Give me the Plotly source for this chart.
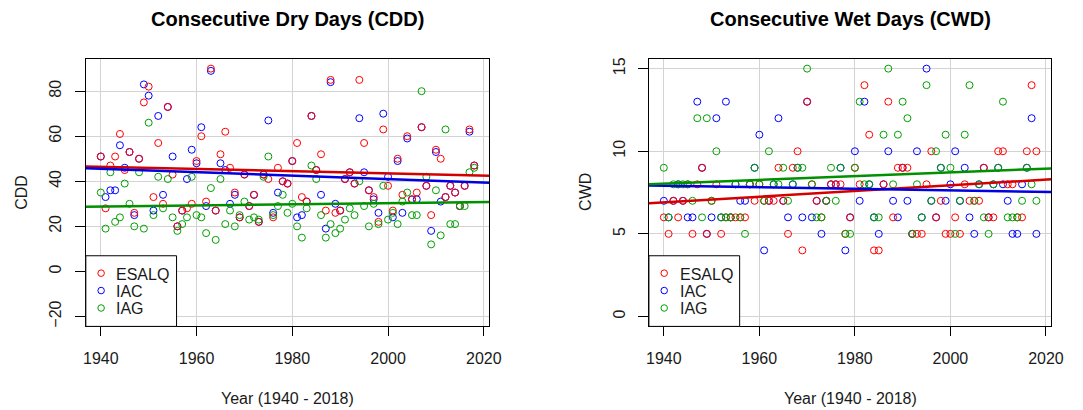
import plotly.graph_objects as go

years = list(range(1940, 2019))

# ---- Consecutive Dry Days (CDD) ----
cdd_esalq = [51, 28, 47, 51, 61, 45, 53, 26, 50, 75, 82, 33, 57, 30, 73, 43, 20, 27, 28, 30,
             49, 60, 31, 90, 27, 52, 62, 46, 35, 24, 43, 29, 34, 22, 43, 41, 24, 46, 40, 39,
             49, 57, 33, 31, 69, 45, 52, 27, 85, 26, 27, 41, 44, 39, 85, 57, 36, 33, 22, 63,
             38, 27, 50, 34, 60, 32, 35, 64, 38, 25, 54, 50, 33, 38, 35, 29, 38, 63, 47]
cdd_iac = [51, 33, 36, 36, 56, 46, 53, 25, 50, 83, 78, 27, 69, 34, 73, 51, 20, 27, 41, 54,
           48, 64, 29, 89, 27, 48, 45, 30, 34, 24, 43, 29, 34, 22, 43, 67, 26, 35, 40, 39,
           49, 24, 25, 31, 69, 45, 34, 19, 84, 30, 27, 41, 44, 39, 68, 44, 36, 32, 26, 70,
           42, 24, 49, 26, 59, 32, 32, 64, 38, 18, 53, 31, 33, 38, 35, 29, 38, 62, 47]
cdd_iag = [35, 19, 44, 22, 24, 39, 30, 20, 44, 19, 66, 25, 42, 28, 41, 24, 18, 21, 24, 42,
           25, 24, 17, 37, 14, 41, 21, 27, 20, 25, 31, 23, 24, 23, 42, 51, 25, 29, 34, 26,
           30, 20, 15, 28, 47, 41, 25, 15, 21, 17, 19, 23, 28, 25, 40, 29, 20, 30, 21, 38,
           23, 26, 21, 31, 35, 25, 25, 80, 42, 12, 36, 16, 63, 21, 21, 29, 29, 44, 46]

# ---- Consecutive Wet Days (CWD) ----
cwd_esalq = [6, 5, 7, 6, 7, 8, 5, 8, 9, 5, 7, 8, 5, 6, 6, 6, 6, 6, 8, 7,
             8, 7, 7, 7, 9, 7, 5, 9, 10, 4, 13, 8, 7, 6, 7, 8, 8, 8, 5, 6,
             9, 8, 14, 11, 4, 4, 8, 13, 6, 9, 9, 9, 5, 5, 5, 8, 10, 6, 7, 5,
             5, 6, 5, 8, 7, 7, 7, 9, 6, 6, 10, 10, 8, 8, 6, 6, 10, 14, 10]
cwd_iac = [7, 6, 7, 8, 7, 6, 6, 13, 9, 5, 6, 12, 6, 13, 6, 8, 7, 7, 8, 9,
           11, 4, 7, 8, 12, 7, 6, 8, 9, 6, 13, 6, 7, 5, 7, 8, 8, 9, 4, 6,
           10, 7, 13, 8, 6, 5, 8, 10, 7, 6, 9, 7, 5, 10, 6, 15, 7, 6, 9, 7,
           8, 10, 7, 9, 6, 5, 8, 9, 6, 8, 9, 8, 7, 5, 5, 8, 9, 12, 5]
cwd_iag = [9, 6, 8, 8, 8, 8, 7, 12, 6, 12, 7, 10, 6, 6, 6, 8, 6, 5, 8, 9,
           8, 7, 10, 8, 8, 9, 7, 8, 9, 9, 15, 8, 6, 6, 7, 9, 7, 9, 5, 5,
           9, 13, 8, 8, 6, 6, 11, 15, 8, 11, 13, 12, 5, 8, 6, 14, 7, 10, 9, 11,
           9, 5, 7, 11, 14, 7, 8, 6, 5, 8, 9, 13, 6, 6, 6, 7, 9, 8, 7]

# trend lines (values at the left and right edges of the plotting region)
trend_x = [1936.88, 2021.12]
cdd_trend = {"ESALQ": [46.6, 42.5], "IAC": [45.8, 39.4], "IAG": [28.7, 30.8]}
cwd_trend = {"ESALQ": [6.85, 8.3], "IAC": [7.93, 7.53], "IAG": [8.01, 8.96]}

names = ["ESALQ", "IAC", "IAG"]
draw_order = ["IAC", "ESALQ", "IAG"]
mcol = {"ESALQ": "#ff0000", "IAC": "#0000ff", "IAG": "#00a000"}
lcol = {"ESALQ": "#d40000", "IAC": "#0000e0", "IAG": "#009000"}

W, H = 1083, 410
FONT = "Arial, 'Liberation Sans', sans-serif"
TXT = "#1a1a1a"


def px(x):
    return x / W


def py(y):
    return 1 - y / H


fig = go.Figure()

panels = [
    ("x", "y", {"ESALQ": cdd_esalq, "IAC": cdd_iac, "IAG": cdd_iag}, cdd_trend),
    ("x2", "y2", {"ESALQ": cwd_esalq, "IAC": cwd_iac, "IAG": cwd_iag}, cwd_trend),
]

for xa, ya, series, trend in panels:
    for n in draw_order:
        fig.add_trace(go.Scatter(
            x=years, y=series[n], mode="markers", name=n, xaxis=xa, yaxis=ya,
            showlegend=False, cliponaxis=False,
            marker=dict(symbol="circle-open", size=7, color=mcol[n],
                        line=dict(width=1, color=mcol[n])),
        ))
    for n in names:
        fig.add_trace(go.Scatter(
            x=trend_x, y=trend[n], mode="lines", xaxis=xa, yaxis=ya, showlegend=False,
            line=dict(color=lcol[n], width=2.5),
        ))

left_box = (84, 493)
right_box = (655, 1063)
top, bottom = 58, 327

xcommon = dict(
    range=[1936.88, 2021.12], tickvals=[1940, 1960, 1980, 2000, 2020],
    showgrid=True, gridcolor="#d3d3d3", gridwidth=1, zeroline=False,
    showline=True, mirror=True, linecolor="black", linewidth=1,
    ticks="outside", ticklen=9, tickcolor="black",
    tickfont=dict(family=FONT, size=16, color=TXT), ticklabelstandoff=8,
)
ycommon = dict(
    showgrid=True, gridcolor="#d3d3d3", gridwidth=1, zeroline=False,
    showline=True, mirror=True, linecolor="black", linewidth=1,
    ticks="outside", ticklen=10, tickcolor="black", tickangle=-90,
    tickfont=dict(family=FONT, size=16, color=TXT), ticklabelstandoff=7,
)

fig.update_layout(
    width=W, height=H,
    margin=dict(l=0, r=0, t=0, b=0),
    paper_bgcolor="white", plot_bgcolor="white",
    font=dict(family=FONT, size=16, color=TXT),
    showlegend=False,
    xaxis=dict(domain=[px(left_box[0]), px(left_box[1])], anchor="y", **xcommon),
    yaxis=dict(domain=[py(bottom), py(top)], anchor="x", range=[-24.4, 94.4],
               tickvals=[-20, 0, 20, 40, 60, 80], **ycommon),
    xaxis2=dict(domain=[px(right_box[0]), px(right_box[1])], anchor="y2", **xcommon),
    yaxis2=dict(domain=[py(bottom), py(top)], anchor="x2", range=[-0.6, 15.6],
                tickvals=[0, 5, 10, 15], **ycommon),
)

# legends (drawn in the lower-left corner of each panel, like R's legend("bottomleft"))
leg_w, leg_h = 92, 71
row_y = [273.5, 291, 308.5]
for x0 in (left_box[0], right_box[0]):
    fig.add_shape(type="rect", xref="paper", yref="paper",
                  x0=px(x0), x1=px(x0 + leg_w), y0=py(bottom), y1=py(bottom - leg_h),
                  line=dict(color="black", width=1), fillcolor="white", layer="above")
    for n, ry in zip(names, row_y):
        cx = x0 + 15.5
        fig.add_shape(type="circle", xref="paper", yref="paper",
                      x0=px(cx - 3.3), x1=px(cx + 3.3), y0=py(ry + 3.3), y1=py(ry - 3.3),
                      line=dict(color=mcol[n], width=1), fillcolor="rgba(0,0,0,0)",
                      layer="above")
        fig.add_annotation(text=n, x=px(x0 + 29), y=py(ry + 1), xref="paper", yref="paper",
                           xanchor="left", yanchor="middle", showarrow=False,
                           font=dict(family=FONT, size=16, color=TXT))

annots = [
    ("Consecutive Dry Days (CDD)", 288.5, 18, 0, True),
    ("Consecutive Wet Days (CWD)", 859, 18, 0, True),
    ("Year (1940 - 2018)", 288.5, 399, 0, False),
    ("Year (1940 - 2018)", 859, 399, 0, False),
    ("CDD", 18, 192, -90, False),
    ("CWD", 590, 192, -90, False),
]
for text, x, y, ang, bold in annots:
    fig.add_annotation(
        text=f"<b>{text}</b>" if bold else text,
        x=px(x), y=py(y), xref="paper", yref="paper",
        xanchor="center", yanchor="middle", showarrow=False, textangle=ang,
        font=dict(family=FONT, size=20 if bold else 16, color="black" if bold else TXT),
    )

fig.write_html("out.html")
